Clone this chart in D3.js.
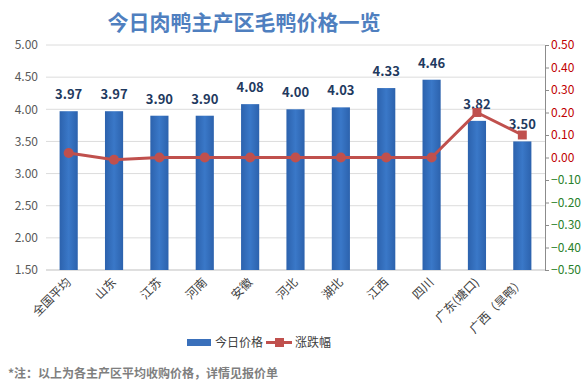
<!DOCTYPE html>
<html>
<head>
<meta charset="utf-8">
<script src="https://cdn.jsdelivr.net/npm/d3@7"></script>
<style>
  body { margin: 0; background: #fff; }
  text { font-family: "Noto Sans CJK SC", "Noto Sans", sans-serif; }
</style>
</head>
<body>
<div id="chart"></div>
<script>
// data
const regions = ['全国平均', '山东', '江苏', '河南', '安徽', '河北', '湖北', '江西', '四川', '广东(塘口)', '广西（旱鸭）'];
const prices = [3.97, 3.97, 3.90, 3.90, 4.08, 4.00, 4.03, 4.33, 4.46, 3.82, 3.50];
const changes = [0.02, -0.01, 0.00, 0.00, 0.00, 0.00, 0.00, 0.00, 0.00, 0.20, 0.10];
const leftTicks = [1.5, 2, 2.5, 3, 3.5, 4, 4.5, 5];
const rightTicks = [-0.5, -0.4, -0.3, -0.2, -0.1, 0, 0.1, 0.2, 0.3, 0.4, 0.5];

const width = 581, height = 388;
const margin = { top: 45, right: 36, bottom: 118, left: 46 };

const svg = d3.select('#chart').append('svg')
    .attr('width', width)
    .attr('height', height);

const defs = svg.append('defs');
const grad = defs.append('linearGradient').attr('id', 'barGrad')
    .attr('x1', 0).attr('x2', 1).attr('y1', 0).attr('y2', 0);
grad.append('stop').attr('offset', '0%').attr('stop-color', '#2c62ad');
grad.append('stop').attr('offset', '50%').attr('stop-color', '#3a78c8');
grad.append('stop').attr('offset', '100%').attr('stop-color', '#2c62ad');

const x = d3.scaleBand()
    .domain(regions)
    .range([margin.left, width - margin.right])
    .paddingInner(0.6)
    .paddingOuter(0.3);

const yL = d3.scaleLinear().domain([1.5, 5]).range([height - margin.bottom, margin.top]);
const yR = d3.scaleLinear().domain([-0.5, 0.5]).range([height - margin.bottom, margin.top]);
const cx = i => x(regions[i]) + x.bandwidth() / 2;

// title
svg.append('text')
    .attr('x', 244).attr('y', 30)
    .attr('text-anchor', 'middle')
    .attr('font-size', 21).attr('font-weight', 'bold')
    .attr('fill', '#4f7fbf')
    .text('今日肉鸭主产区毛鸭价格一览');

// gridlines
svg.append('g')
    .selectAll('line')
    .data(leftTicks)
    .enter().append('line')
    .attr('x1', margin.left).attr('x2', width - margin.right)
    .attr('y1', d => yL(d)).attr('y2', d => yL(d))
    .attr('stroke', d => d === 1.5 ? '#bfbfbf' : '#dcdcdc')
    .attr('stroke-width', 1);

// left axis
const leftAxis = svg.append('g')
    .attr('transform', `translate(${margin.left},0)`)
    .call(d3.axisLeft(yL).tickValues(leftTicks).tickFormat(d3.format('.2f')).tickSize(0).tickPadding(8));
leftAxis.select('.domain').remove();
leftAxis.selectAll('text')
    .attr('font-family', '"Liberation Sans", sans-serif')
    .attr('font-size', 12).attr('fill', '#595959');

// right axis
const rightAxis = svg.append('g')
    .attr('transform', `translate(${width - margin.right},0)`)
    .call(d3.axisRight(yR).tickValues(rightTicks).tickFormat(d3.format('.2f')).tickSize(4).tickSizeOuter(4).tickPadding(2));
rightAxis.select('.domain').attr('stroke', '#8c8c8c');
rightAxis.selectAll('.tick line').attr('stroke', '#8c8c8c');
rightAxis.selectAll('text')
    .attr('font-family', '"Liberation Sans", sans-serif')
    .attr('font-size', 12)
    .attr('fill', d => d >= 0 ? '#c00000' : '#2a7f2a');

// bars
svg.append('g')
    .selectAll('rect')
    .data(prices)
    .enter().append('rect')
    .attr('x', (d, i) => x(regions[i]))
    .attr('width', x.bandwidth())
    .attr('y', d => yL(d))
    .attr('height', d => yL(1.5) - yL(d))
    .attr('fill', 'url(#barGrad)');

// value labels
svg.append('g')
    .selectAll('text')
    .data(prices)
    .enter().append('text')
    .attr('x', (d, i) => cx(i))
    .attr('y', d => yL(d) - 12)
    .attr('text-anchor', 'middle')
    .attr('font-family', '"Liberation Sans", sans-serif')
    .attr('font-size', 13).attr('font-weight', 'bold')
    .attr('fill', '#1f3a60')
    .text(d => d.toFixed(2));

// change line
const line = d3.line()
    .x((d, i) => cx(i))
    .y(d => yR(d));

svg.append('path')
    .datum(changes)
    .attr('d', line)
    .attr('fill', 'none')
    .attr('stroke', '#c0504d')
    .attr('stroke-width', 3);

// markers: round for most, square on the last two points as in the source
const sym = d3.symbol().size(80);
svg.append('g')
    .selectAll('path')
    .data(changes)
    .enter().append('path')
    .attr('transform', (d, i) => `translate(${cx(i)},${yR(d)})`)
    .attr('d', (d, i) => sym.type(i >= 9 ? d3.symbolSquare : d3.symbolCircle)())
    .attr('fill', '#c0504d');

// x labels
svg.append('g')
    .selectAll('text')
    .data(regions)
    .enter().append('text')
    .attr('transform', d => `translate(${x(d) + x.bandwidth() / 2 + 3},${yL(1.5) + 13}) rotate(-45)`)
    .attr('text-anchor', 'end')
    .attr('font-size', 12)
    .attr('fill', '#404040')
    .text(d => d);

// legend
const lg = svg.append('g');
lg.append('rect').attr('x', 187).attr('y', 339).attr('width', 24).attr('height', 7).attr('fill', '#3a70bb');
lg.append('text').attr('x', 215).attr('y', 347).attr('font-size', 12).attr('fill', '#404040').text('今日价格');
lg.append('line').attr('x1', 266).attr('x2', 292).attr('y1', 342.5).attr('y2', 342.5)
    .attr('stroke', '#c0504d').attr('stroke-width', 3);
lg.append('rect').attr('x', 275).attr('y', 338).attr('width', 9).attr('height', 9).attr('fill', '#c0504d');
lg.append('text').attr('x', 295).attr('y', 347).attr('font-size', 12).attr('fill', '#404040').text('涨跌幅');

// footnote
svg.append('text')
    .attr('x', 8).attr('y', 378)
    .attr('font-size', 12).attr('font-weight', 'bold')
    .attr('fill', '#7f7f7f')
    .text('*注：以上为各主产区平均收购价格，详情见报价单');
</script>
</body>
</html>
